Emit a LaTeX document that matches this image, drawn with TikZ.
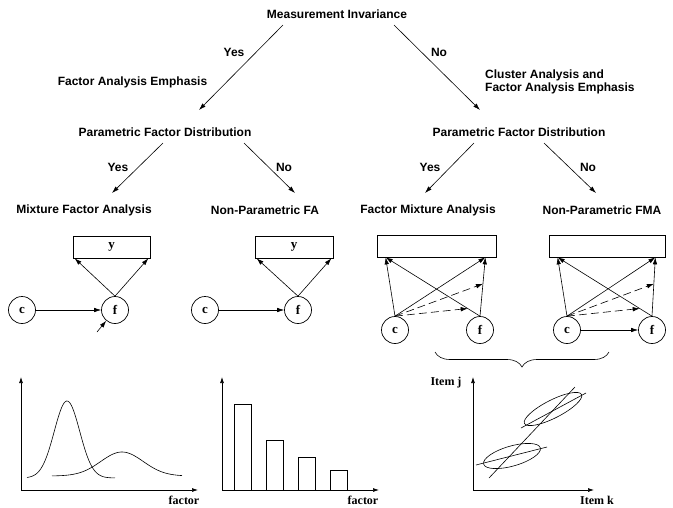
\documentclass[tikz,border=0pt]{standalone}
\usepackage{fontspec}
\setmainfont{Liberation Serif}
\newfontfamily\labfont{Liberation Sans}
\usetikzlibrary{arrows.meta,decorations.pathreplacing,calc}
\begin{document}
\begin{tikzpicture}[x=1pt,y=-1pt,
  lab/.style={font=\labfont\bfseries\fontsize{12}{13}\selectfont, inner sep=0pt},
  ser/.style={font=\bfseries\fontsize{12}{13}\selectfont, inner sep=0pt},
  arr/.style={line width=0.6pt, -{Latex[length=7pt,width=4.5pt]}},
  darr/.style={arr, dash pattern=on 8pt off 4pt},
  ax/.style={line width=0.7pt, -{Latex[length=6pt,width=4pt]}},
  box/.style={draw, line width=0.7pt, minimum height=22pt, inner sep=0pt, font=\bfseries\fontsize{13}{14}\selectfont},
  circ/.style={draw, circle, minimum size=27pt, inner sep=0pt, line width=0.7pt, font=\bfseries\fontsize{13}{14}\selectfont},
  shp/.style={line width=0.6pt}
]
\useasboundingbox (0,0) rectangle (673,507);

% ---- tree labels
\node[lab] (mi) at (337,14) {Measurement Invariance};
\node[lab] (yes0) at (234,52) {Yes};
\node[lab] (no0) at (439,52) {No};
\node[lab] (fae) at (132.5,82) {Factor Analysis Emphasis};
\node[lab, anchor=west, align=left] (cae) at (485,81.5) {Cluster Analysis and\\Factor Analysis Emphasis};
\node[lab] (pfdL) at (165,132) {Parametric Factor Distribution};
\node[lab] (pfdR) at (519,132) {Parametric Factor Distribution};
\node[lab] (yesL) at (118,167) {Yes};
\node[lab] (noL) at (284,167) {No};
\node[lab] (yesR) at (430,167) {Yes};
\node[lab] (noR) at (588,167) {No};
\node[lab] (mfa) at (84,210) {Mixture Factor Analysis};
\node[lab] (npfa) at (265,210) {Non-Parametric FA};
\node[lab] (fmaL) at (428,210) {Factor Mixture Analysis};
\node[lab] (npfma) at (602,210) {Non-Parametric FMA};

% ---- tree arrows
\coordinate (a0s) at (283,25);  \coordinate (a0e) at (199,110);
\coordinate (b0s) at (394,25);  \coordinate (b0e) at (480,110);
\coordinate (aLs) at (163,143); \coordinate (aLe) at (112,193);
\coordinate (bLs) at (244,143); \coordinate (bLe) at (295,193);
\coordinate (aRs) at (474,143); \coordinate (aRe) at (425,193);
\coordinate (bRs) at (544,143); \coordinate (bRe) at (596,193);
\draw[arr] (a0s) -- (a0e);
\draw[arr] (b0s) -- (b0e);
\draw[arr] (aLs) -- (aLe);
\draw[arr] (bLs) -- (bLe);
\draw[arr] (aRs) -- (aRe);
\draw[arr] (bRs) -- (bRe);

% ---- diagram 1
\node[box, minimum width=77pt] (y1) at (111.5,247) {y};
\node[circ] (c1) at (22,310) {c};
\node[circ] (f1) at (115,310) {f};
\coordinate (e1) at (97,332);
\draw[arr] (f1.north) -- ([xshift=2pt]y1.south west);
\draw[arr] (f1.north) -- ([xshift=-2pt]y1.south east);
\draw[arr] (c1) -- (f1);
\draw[arr] (e1) -- (f1);

% ---- diagram 2
\node[box, minimum width=78pt] (y2) at (294,247) {y};
\node[circ] (c2) at (205,310) {c};
\node[circ] (f2) at (298,310) {f};
\draw[arr] (f2.north) -- ([xshift=2pt]y2.south west);
\draw[arr] (f2.north) -- ([xshift=-2pt]y2.south east);
\draw[arr] (c2) -- (f2);

% ---- diagram 3
\node[box, minimum width=119pt] (y3) at (436.5,246) {};
\node[circ] (c3) at (395,330) {c};
\node[circ] (f3) at (480,330) {f};
\coordinate (y3l) at ([xshift=9pt]y3.south west);
\coordinate (y3r) at ([xshift=-11pt]y3.south east);
\draw[arr] (c3.north) -- (y3l);
\draw[arr] (c3.north) -- (y3r);
\draw[arr] (f3.north) -- (y3l);
\draw[arr] (f3.north) -- (y3r);
\coordinate (d3a) at ($(f3.north)!0.55!(y3r)$);
\coordinate (d3b) at ($(f3.north)!0.13!(y3l)$);
\draw[darr] (c3.north) -- (d3a);
\draw[darr] (c3.north) -- (d3b);

% ---- diagram 4
\node[box, minimum width=116pt] (y4) at (607,246) {};
\node[circ] (c4) at (567,330) {c};
\node[circ] (f4) at (652,330) {f};
\coordinate (y4l) at ([xshift=9pt]y4.south west);
\coordinate (y4r) at ([xshift=-10pt]y4.south east);
\draw[arr] (c4.north) -- (y4l);
\draw[arr] (c4.north) -- (y4r);
\draw[arr] (f4.north) -- (y4l);
\draw[arr] (f4.north) -- (y4r);
\coordinate (d4a) at ($(f4.north)!0.55!(y4r)$);
\coordinate (d4b) at ($(f4.north)!0.13!(y4l)$);
\draw[darr] (c4.north) -- (d4a);
\draw[darr] (c4.north) -- (d4b);
\draw[arr] (c4) -- (f4);

% ---- brace
\coordinate (brl) at (435,352);
\coordinate (brr) at (609,352);
\draw[shp, decorate, decoration={brace, amplitude=15pt, mirror}] (brl) -- (brr);

% ---- plot 1
\coordinate (o1) at (21,490);
\coordinate (o1y) at (21,377);
\coordinate (o1x) at (198,490);
\draw[ax] (o1) -- (o1y);
\draw[ax] (o1) -- (o1x);
\draw[shp] plot[domain=27:115, samples=90, smooth] (\x, {478-77*exp(-((\x-67)/18)^2)});
\draw[shp] plot[domain=52:182, samples=90, smooth] (\x, {476-24*exp(-((\x-122)/30)^2)});
\node[ser] (fx1) at (184,500.5) {factor};

% ---- plot 2
\coordinate (o2) at (222,490);
\coordinate (o2y) at (222,377);
\coordinate (o2x) at (379,490);
\draw[ax] (o2) -- (o2y);
\draw[ax] (o2) -- (o2x);
\draw[shp] (234,490) rectangle (251,404);
\draw[shp] (266,490) rectangle (283,440);
\draw[shp] (298,490) rectangle (315,457);
\draw[shp] (330,490) rectangle (347,470);
\node[ser] (fx2) at (363,500.5) {factor};

% ---- plot 3
\coordinate (o3) at (473,490);
\coordinate (o3y) at (473,377);
\coordinate (o3x) at (594,490);
\draw[ax] (o3) -- (o3y);
\draw[ax] (o3) -- (o3x);
\draw[shp, rotate around={27:(553,409)}] (553,409) ellipse [x radius=32pt, y radius=9pt];
\draw[shp, rotate around={16:(512,456)}] (512,456) ellipse [x radius=29.5pt, y radius=10pt];
\draw[shp] (489,478) -- (575,387);
\draw[shp] (521,428) -- (586,393);
\draw[shp] (476,465) -- (547,447);
\node[ser] (ij) at (446,383) {Item j};
\node[ser] (ik) at (597,500) {Item k};
\end{tikzpicture}
\end{document}
